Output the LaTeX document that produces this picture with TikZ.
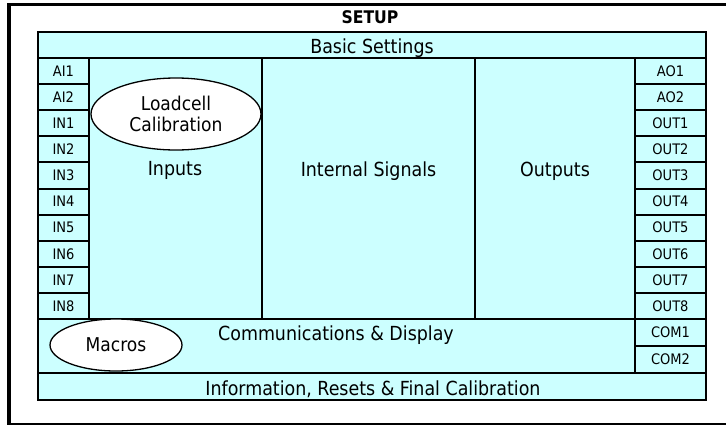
\documentclass[tikz,border=0pt]{standalone}
\usepackage{fontspec}
\setmainfont{DejaVu Sans Condensed}
\usetikzlibrary{shapes.geometric}
\definecolor{cyanbg}{HTML}{CCFFFF}
\begin{document}
\begin{tikzpicture}[x=1pt,y=-1pt,
  cell/.style={draw, line width=2pt, fill=cyanbg, anchor=north west, inner sep=0pt, outer sep=0pt},
  colbox/.style={draw, line width=1.2pt, fill=cyanbg, anchor=north west, inner sep=0pt, outer sep=0pt},
  pin/.style={cell, minimum height=26.1pt, font=\fontsize{14.5}{16}\selectfont},
  big/.style={font=\fontsize{19.4}{22}\selectfont, inner sep=0pt, anchor=base},
  oval/.style={draw, ellipse, fill=white, line width=1.3pt, inner sep=0pt, align=center, font=\fontsize{19}{21.5}\selectfont}
]
\useasboundingbox (0,0) rectangle (726,426);
% outer frame
\coordinate (ftr) at (726,4.5);
\coordinate (ftl) at (9,4.5);
\coordinate (fbl) at (9,425);
\coordinate (bl) at (8,424);
\coordinate (br) at (726,424);
\draw[line width=3.5pt] (ftr) -- (ftl) -- (fbl);
\draw[line width=2pt] (bl) -- (br);
\node[font=\bfseries\fontsize{17.4}{19}\selectfont, inner sep=0pt, anchor=base] (setup) at (370,23) {SETUP};
% main box
\node[cell, minimum width=668pt, minimum height=368pt] (main) at (38,32) {};
% columns
\node[colbox, minimum width=173pt, minimum height=261pt] (inputs) at (89,58) {};
\node[colbox, minimum width=213pt, minimum height=261pt] (internal) at (262,58) {};
\node[colbox, minimum width=160pt, minimum height=261pt] (outputs) at (475,58) {};
% rows
\node[cell, minimum width=668pt, minimum height=26pt] (basic) at (38,32) {};
\node[big] (basict) at (372,53.5) {Basic Settings};
\node[cell, minimum width=597pt, minimum height=54pt] (comm) at (38,319) {};
\node[big] (commt) at (336,340) {Communications \& Display};
\node[cell, minimum width=668pt, minimum height=27pt] (info) at (38,373) {};
\node[big] (infot) at (373,395) {Information, Resets \& Final Calibration};
% column labels
\node[big] (inputst) at (175,175) {Inputs};
\node[big] (internalt) at (368.5,176) {Internal Signals};
\node[big] (outputst) at (555,176) {Outputs};
% left pins
\foreach \i/\t in {0/AI1,1/AI2,2/IN1,3/IN2,4/IN3,5/IN4,6/IN5,7/IN6,8/IN7,9/IN8}
  \node[pin, minimum width=51pt] (l\i) at ({38},{58+26.1*\i}) {\t};
% right pins
\foreach \i/\t in {0/AO1,1/AO2,2/OUT1,3/OUT2,4/OUT3,5/OUT4,6/OUT5,7/OUT6,8/OUT7,9/OUT8}
  \node[pin, minimum width=71pt] (r\i) at ({635},{58+26.1*\i}) {\t};
\node[pin, minimum width=71pt, minimum height=27pt] (com1) at (635,319) {COM1};
\node[pin, minimum width=71pt, minimum height=27pt] (com2) at (635,346) {COM2};
% ellipses
\node[oval, minimum width=170pt, minimum height=72pt] (loadcell) at (176,114) {Loadcell\\Calibration};
\node[oval, minimum width=132pt, minimum height=52pt] (macros) at (116,345) {Macros};
\end{tikzpicture}
\end{document}
